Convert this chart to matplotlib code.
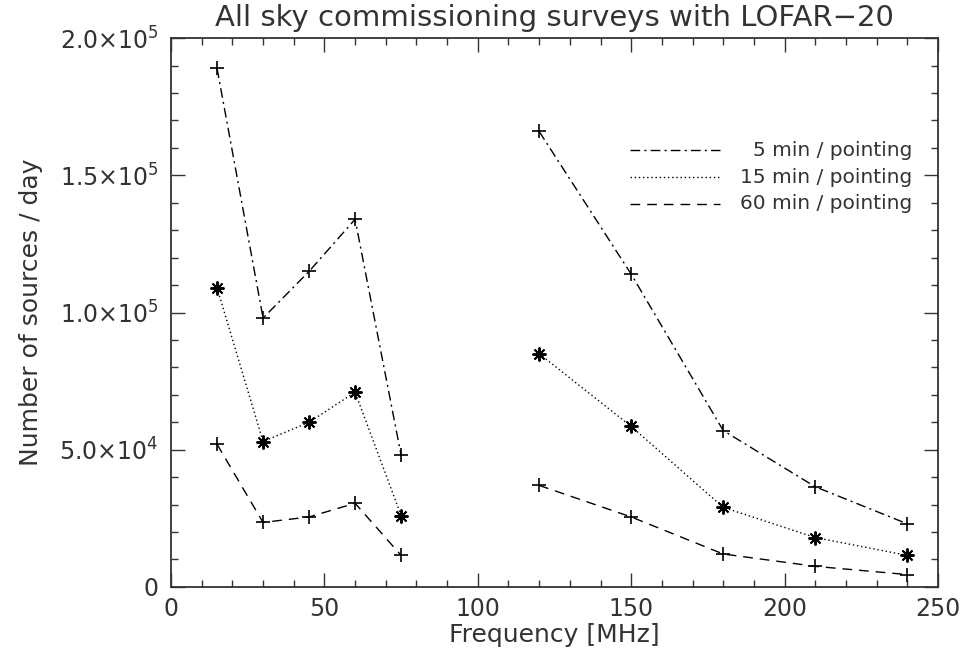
import numpy as np
import matplotlib.pyplot as plt
from matplotlib.ticker import MultipleLocator, FixedLocator, FixedFormatter

# frequencies (MHz), low band and high band plotted as separate segments
freq_lba = [15, 30, 45, 60, 75]
freq_hba = [120, 150, 180, 210, 240]

# number of sources per day
min5_lba = [189000, 98000, 115000, 134000, 48000]
min5_hba = [166000, 114000, 57000, 36500, 23000]
min15_lba = [109000, 53000, 60000, 71000, 26000]
min15_hba = [85000, 58500, 29000, 18000, 11500]
min60_lba = [52000, 23500, 25500, 30500, 11500]
min60_hba = [37000, 25500, 12000, 7500, 4500]

labels = ['5 min / pointing', '15 min / pointing', '60 min / pointing']
yticks = [0, 50000, 100000, 150000, 200000]
ytick_labels = ['0', r'5.0$\times$10$^4$', r'1.0$\times$10$^5$',
                r'1.5$\times$10$^5$', r'2.0$\times$10$^5$']

fig = plt.figure(figsize=(9.63, 6.7), dpi=100)
ax = fig.add_axes([0.1776, 0.124, 0.7964, 0.819])

lw = 1.0
dashdot = (0, (7, 3, 1.5, 3))
dotted = (0, (1, 2))
dashed = (0, (7, 5))
ast = (8, 2, 0)
txt = '#333333'

for xs, y5, y15, y60 in [(freq_lba, min5_lba, min15_lba, min60_lba),
                         (freq_hba, min5_hba, min15_hba, min60_hba)]:
    ax.plot(xs, y5, color='black', lw=lw, linestyle=dashdot,
            marker='+', ms=10, mew=1.2)
    ax.plot(xs, y15, color='black', lw=lw, linestyle=dotted,
            marker=ast, ms=10, mew=1.4)
    ax.plot(xs, y60, color='black', lw=lw, linestyle=dashed,
            marker='+', ms=10, mew=1.2)

ax.set_xlim(0, 250)
ax.set_ylim(0, 200000)
ax.xaxis.set_major_locator(MultipleLocator(50))
ax.xaxis.set_minor_locator(MultipleLocator(10))
ax.yaxis.set_major_locator(FixedLocator(yticks))
ax.yaxis.set_major_formatter(FixedFormatter(ytick_labels))
ax.yaxis.set_minor_locator(MultipleLocator(10000))
ax.tick_params(which='both', direction='in', top=True, right=True,
               labelsize=17, color=txt, labelcolor=txt)
ax.tick_params(axis='x', pad=7)
ax.tick_params(axis='y', pad=9)
ax.tick_params(which='major', length=10, width=1)
ax.tick_params(which='minor', length=5, width=1)
for s in ax.spines.values():
    s.set_linewidth(1.3)
    s.set_color(txt)

ax.set_xlabel('Frequency [MHz]', fontsize=18, color=txt, labelpad=2)
ax.set_ylabel('Number of sources / day', fontsize=18, color=txt, labelpad=12)
ax.set_title('All sky commissioning surveys with LOFAR\u221220', fontsize=21,
             color=txt, pad=9)

# legend drawn by hand: line sample on the left, right-aligned label
styles = [dashdot, dotted, dashed]
for i, (lab, ls) in enumerate(zip(labels, styles)):
    yy = 0.796 - i * 0.049
    ax.plot([0.598, 0.716], [yy, yy], transform=ax.transAxes,
            color='black', lw=lw, linestyle=ls)
    ax.text(0.966, yy, lab, transform=ax.transAxes, ha='right',
            va='center', fontsize=14.5, color=txt)

fig.savefig('out.png', dpi=100)
